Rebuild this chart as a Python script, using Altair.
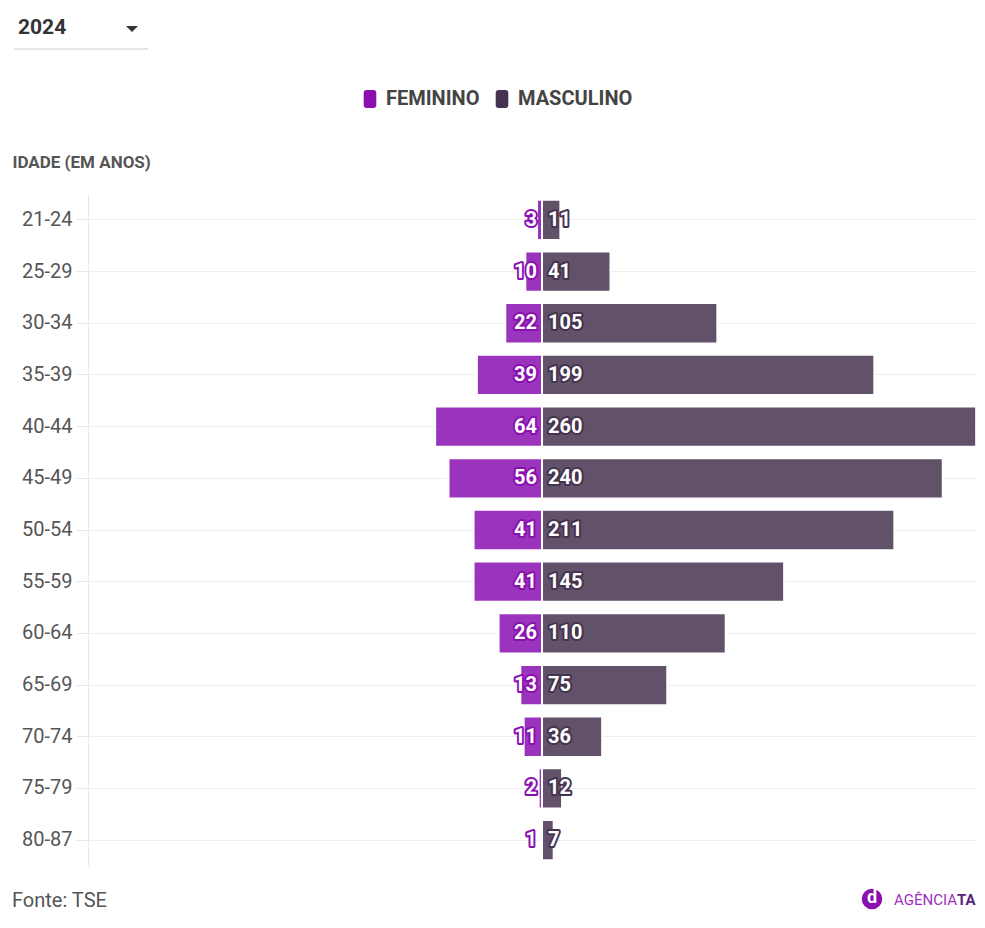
import altair as alt
import pandas as pd

# ---- data ----
idades = ["21-24", "25-29", "30-34", "35-39", "40-44", "45-49", "50-54",
          "55-59", "60-64", "65-69", "70-74", "75-79", "80-87"]
feminino = [3, 10, 22, 39, 64, 56, 41, 41, 26, 13, 11, 2, 1]
masculino = [11, 41, 105, 199, 260, 240, 211, 145, 110, 75, 36, 12, 7]
sexos = ["FEMININO", "MASCULINO"]
cores = ["#8a10b0", "#45334f"]
ano = "2024"
fonte = "Fonte: TSE"
titulo_eixo = "IDADE (EM ANOS)"

rows = []
for i, idade in enumerate(idades):
    rows.append({"idade": idade, "sexo": sexos[0], "valor": feminino[i], "x": -feminino[i], "zero": 0})
    rows.append({"idade": idade, "sexo": sexos[1], "valor": masculino[i], "x": masculino[i], "zero": 0})
df = pd.DataFrame(rows)
decor = pd.DataFrame({"a": [0]})

FONT = "Roboto"
W = 889
x_scale = alt.Scale(domain=[-271.9, 260.5], nice=False, zero=False)

y_enc = alt.Y(
    "idade:N", sort=idades,
    scale=alt.Scale(paddingInner=0.22, paddingOuter=0.11),
    axis=alt.Axis(
        title=titulo_eixo, titleAngle=0, titleAlign="left", titleBaseline="middle",
        titleX=-76, titleY=-32, titleFont=FONT, titleFontSize=17, titleFontWeight="bold",
        titleColor="#555555",
        labelFont=FONT, labelFontSize=20, labelColor="#555555", labelPadding=4,
        tickSize=12, tickColor="#e8e8e8", domainColor="#e8e8e8",
        grid=True, gridColor="#eeeeee",
    ),
)

sym = ("M-0.7,-0.67 Q-0.7,-1 -0.37,-1 L0.37,-1 Q0.7,-1 0.7,-0.67 L0.7,0.67 "
       "Q0.7,1 0.37,1 L-0.37,1 Q-0.7,1 -0.7,0.67 Z")

base = alt.Chart(df)

bars = base.mark_bar(fillOpacity=0.85, stroke="white", strokeWidth=2).encode(
    x=alt.X("x:Q", scale=x_scale, axis=None, stack=None),
    y=y_enc,
    color=alt.Color(
        "sexo:N", scale=alt.Scale(domain=sexos, range=cores),
        legend=alt.Legend(
            title=None, orient="none", legendX=272, legendY=-105, direction="horizontal",
            symbolType=sym, symbolSize=324, symbolOpacity=1, symbolStrokeWidth=0,
            labelFont=FONT, labelFontSize=20, labelFontWeight="bold", labelColor="#444444",
            labelOffset=6, columnPadding=12,
        ),
    ),
)


def labels(sexo, cor, align, dx):
    src = base.transform_filter(alt.datum.sexo == sexo)
    enc = dict(x=alt.X("zero:Q", scale=x_scale, axis=None), y=y_enc, text="valor:Q")
    common = dict(align=align, baseline="middle", dx=dx, font=FONT, fontSize=20, fontWeight="bold")
    halo = src.mark_text(fill=cor, stroke=cor, strokeWidth=4, strokeJoin="round", **common).encode(**enc)
    top = src.mark_text(fill="white", **common).encode(**enc)
    return [halo, top]


layers = [bars] + labels(sexos[0], cores[0], "right", -5) + labels(sexos[1], cores[1], "left", 6)

dc = alt.Chart(decor)
layers += [
    dc.mark_text(align="left", baseline="middle", font=FONT, fontSize=21, fontWeight="bold",
                 color="#333333").encode(x=alt.value(-70), y=alt.value(-166), text=alt.value(ano)),
    dc.mark_point(shape="M-1,-0.5 L1,-0.5 L0,0.5 Z", filled=True, size=144, opacity=1,
                  color="#333333").encode(x=alt.value(44), y=alt.value(-165)),
    dc.mark_rule(color="#cccccc", strokeWidth=1).encode(
        x=alt.value(-74), x2=alt.value(60), y=alt.value(-145)),
    dc.mark_text(align="left", baseline="alphabetic", font=FONT, fontSize=20,
                 color="#555555").encode(x=alt.value(-76), y=alt.value(713), text=alt.value(fonte)),
    dc.mark_point(shape="circle", filled=True, size=420, opacity=1, color="#8a10b0").encode(
        x=alt.value(784), y=alt.value(705)),
    dc.mark_text(align="center", baseline="middle", font=FONT, fontSize=18, fontWeight="bold",
                 color="white").encode(x=alt.value(784), y=alt.value(704), text=alt.value("d")),
    dc.mark_text(align="right", baseline="middle", font=FONT, fontSize=15,
                 color="#9b30c0").encode(x=alt.value(W - 20), y=alt.value(706), text=alt.value("AGÊNCIA")),
    dc.mark_text(align="left", baseline="middle", font=FONT, fontSize=15, fontWeight="bold",
                 color="#5b1f7d").encode(x=alt.value(W - 20), y=alt.value(706), text=alt.value("TA")),
]

chart = alt.layer(*layers).properties(
    width=W, height=672,
    padding={"left": 80, "top": 186, "right": 0, "bottom": 47},
    autosize=alt.AutoSizeParams(type="none"),
    background="white",
).configure_view(stroke=None)

chart.save("out.html", embed_options={"renderer": "svg", "actions": False})
